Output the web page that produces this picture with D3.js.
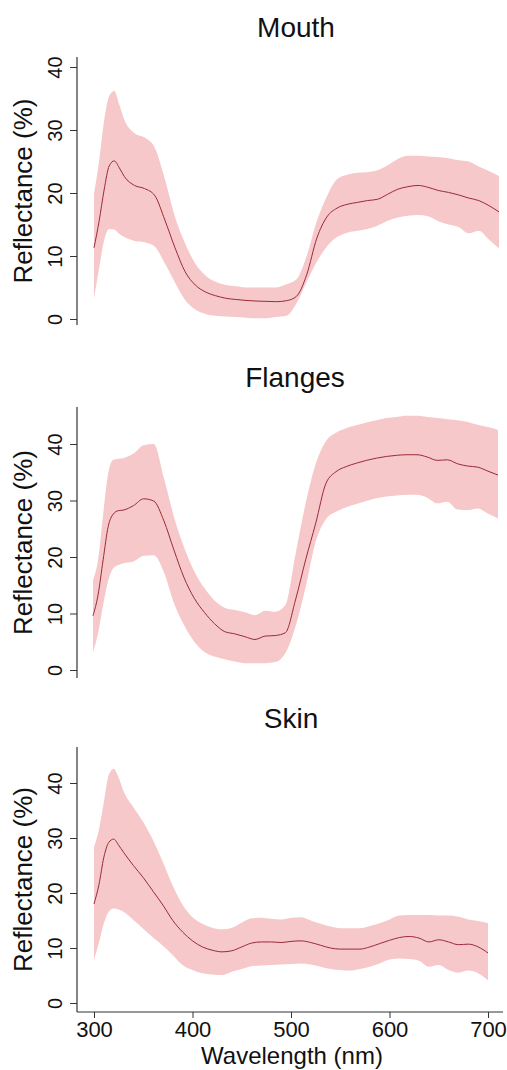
<!DOCTYPE html>
<html>
<head>
<meta charset="utf-8">
<script src="https://cdn.jsdelivr.net/npm/d3@7"></script>
<style>
  html, body { margin: 0; padding: 0; background: #fff; }
  svg { display: block; font-family: "Liberation Sans", Arial, sans-serif; }
</style>
</head>
<body>
<svg id="chart" width="507" height="1070"></svg>
<script>
// wavelengths (nm) shared by all three panels
const wavelengths = [300, 305, 310, 315, 320, 325, 330, 340, 350, 360, 370, 380, 390, 400, 410, 420, 430, 440, 450, 460, 470, 480, 490, 500,
  510, 520, 530, 540, 550, 560, 570, 580, 590, 600, 610, 620, 630, 640, 650, 660, 670, 680, 690, 700];

// Mouth
const mouthMean = [11.3, 15.5, 20.5, 24.3, 25.1, 24.0, 22.6, 21.2, 20.7, 19.6, 15.7, 11.3, 7.5, 5.4, 4.3, 3.7, 3.3, 3.1, 2.95, 2.85, 2.8, 2.75, 2.9, 3.6,
  7.0, 12.8, 16.2, 17.6, 18.2, 18.5, 18.8, 19.0, 19.8, 20.6, 21.0, 21.2, 20.9, 20.4, 20.1, 19.7, 19.2, 18.8, 18.0, 17.0];
const mouthUpper = [19.9, 25.0, 31.5, 35.4, 36.2, 34.0, 31.6, 29.5, 28.8, 27.2, 22.2, 16.2, 12.0, 8.8, 6.9, 5.9, 5.4, 5.2, 5.0, 5.0, 5.0, 5.0, 5.5, 6.3,
  10.0, 15.5, 19.5, 22.2, 22.9, 23.2, 23.3, 23.6, 24.4, 25.4, 25.9, 25.9, 25.8, 25.7, 25.5, 25.2, 25.0, 24.2, 23.5, 22.7];
const mouthLower = [3.3, 8.0, 12.5, 14.3, 14.2, 13.5, 13.0, 12.4, 12.2, 11.5, 8.8, 5.8, 3.0, 1.5, 0.8, 0.5, 0.4, 0.3, 0.2, 0.1, 0.1, 0.3, 0.5, 2.5,
  5.9, 9.1, 11.5, 13.0, 13.7, 14.0, 14.3, 14.8, 15.6, 16.1, 16.4, 16.5, 16.3, 15.5, 15.0, 14.6, 13.6, 14.0, 12.6, 11.2];

// Flanges
const flangesMean = [9.6, 13.3, 19.5, 25.4, 27.6, 28.2, 28.3, 29.1, 30.3, 29.9, 26.4, 21.2, 16.3, 12.7, 10.2, 8.2, 6.8, 6.4, 5.9, 5.4, 6.0, 6.1, 6.6, 12.4,
  19.5, 26.0, 33.0, 35.1, 36.0, 36.6, 37.1, 37.5, 37.8, 38.0, 38.1, 38.1, 37.7, 37.1, 37.2, 36.5, 36.1, 35.9, 35.2, 34.5];
const flangesUpper = [15.9, 19.5, 27.5, 34.8, 37.2, 37.4, 37.5, 38.3, 39.8, 40.0, 34.0, 27.1, 21.7, 17.5, 14.5, 12.3, 11.0, 10.6, 10.2, 9.7, 10.5, 10.3, 11.5, 20.5,
  29.5, 36.5, 40.5, 42.0, 42.8, 43.3, 43.8, 44.2, 44.6, 44.8, 45.0, 45.0, 44.8, 44.6, 44.4, 44.2, 43.9, 43.4, 43.0, 42.5];
const flangesLower = [3.2, 6.5, 11.5, 15.8, 18.0, 18.6, 18.9, 19.2, 20.2, 20.3, 17.3, 11.8, 7.9, 5.0, 3.2, 2.4, 1.9, 1.5, 1.2, 1.2, 1.2, 1.4, 3.0, 7.7,
  14.7, 22.8, 26.7, 28.0, 28.8, 29.4, 29.9, 30.4, 30.7, 30.9, 31.0, 31.0, 30.5, 29.5, 29.8, 28.4, 28.3, 28.6, 27.7, 26.8];

// Skin
const skinMean = [18.0, 21.5, 26.5, 29.2, 29.8, 28.7, 27.4, 25.0, 22.8, 20.3, 17.8, 15.0, 12.9, 11.3, 10.2, 9.6, 9.3, 9.5, 10.2, 10.9, 11.1, 11.1, 11.0, 11.2,
  11.3, 11.0, 10.5, 10.0, 9.8, 9.8, 9.8, 10.2, 10.8, 11.4, 11.9, 12.1, 11.8, 11.1, 11.5, 11.1, 10.6, 10.7, 10.2, 9.1];
const skinUpper = [28.4, 31.5, 36.5, 41.5, 42.6, 41.0, 38.5, 35.6, 32.9, 29.6, 25.6, 21.3, 17.8, 15.6, 14.4, 13.7, 13.4, 13.7, 14.6, 15.4, 15.5, 15.3, 15.2, 15.5,
  15.6, 15.0, 14.4, 13.9, 13.6, 13.6, 13.6, 14.0, 14.5, 15.2, 15.9, 16.0, 16.0, 16.0, 15.9, 15.9, 15.7, 15.2, 14.9, 14.5];
const skinLower = [7.8, 11.0, 14.5, 16.6, 17.2, 17.0, 16.6, 15.1, 13.5, 11.9, 10.4, 8.7, 6.9, 6.0, 5.4, 5.2, 5.1, 5.7, 6.2, 6.7, 6.8, 6.9, 7.0, 7.1,
  7.2, 7.0, 6.6, 6.2, 6.0, 5.9, 6.2, 6.6, 7.2, 7.9, 8.1, 8.0, 7.7, 6.6, 6.9, 6.0, 5.5, 5.9, 5.4, 4.1];

const yTicks = [0, 10, 20, 30, 40];
const xTicks = [300, 400, 500, 600, 700];

const bandColor = '#f6c8ca';
const lineColor = '#9a2a38';
const axisColor = '#333';

// panel placement (pixels)
const panels = [
  { title: 'Mouth', mean: mouthMean, upper: mouthUpper, lower: mouthLower,
    titleX: 296, titleY: 37, xLeft: 94, xRight: 499, y0: 319, y40: 67, top: 57, bottom: 325, xAxis: false },
  { title: 'Flanges', mean: flangesMean, upper: flangesUpper, lower: flangesLower,
    titleX: 295, titleY: 387, xLeft: 93, xRight: 498, y0: 670, y40: 444, top: 407, bottom: 678, xAxis: false },
  { title: 'Skin', mean: skinMean, upper: skinUpper, lower: skinLower,
    titleX: 291, titleY: 728, xLeft: 94, xRight: 488, y0: 1003, y40: 783, top: 747, bottom: 1012, xAxis: true }
];

const axisX = 77;
const svg = d3.select('#chart');

panels.forEach(function(p) {
  const x = d3.scaleLinear().domain([300, 700]).range([p.xLeft, p.xRight]);
  const y0 = d3.scaleLinear().domain([0, 40]).range([p.y0, p.y40]);
  const y = d3.scaleLinear().domain([y0.invert(p.bottom), y0.invert(p.top)]).range([p.bottom, p.top]);

  const rows = wavelengths.map(function(w, i) {
    return { w: w, mean: p.mean[i], upper: p.upper[i], lower: p.lower[i] };
  });

  const g = svg.append('g');

  // band
  g.append('path')
    .datum(rows)
    .attr('fill', bandColor)
    .attr('d', d3.area()
      .x(function(d) { return x(d.w); })
      .y0(function(d) { return y(d.lower); })
      .y1(function(d) { return y(d.upper); })
      .curve(d3.curveMonotoneX));

  // mean line
  g.append('path')
    .datum(rows)
    .attr('fill', 'none')
    .attr('stroke', lineColor)
    .attr('stroke-width', 1)
    .attr('d', d3.line()
      .x(function(d) { return x(d.w); })
      .y(function(d) { return y(d.mean); })
      .curve(d3.curveMonotoneX));

  // left axis
  const ya = g.append('g')
    .attr('transform', 'translate(' + axisX + ',0)')
    .call(d3.axisLeft(y).tickValues(yTicks).tickSize(7).tickSizeOuter(0));
  ya.select('.domain').remove();
  ya.selectAll('.tick line').attr('stroke', axisColor);
  ya.selectAll('.tick text')
    .attr('transform', 'rotate(-90)')
    .attr('x', 0)
    .attr('y', -15)
    .attr('dy', 0)
    .attr('text-anchor', 'middle')
    .attr('font-size', '20px')
    .attr('font-family', '"Liberation Sans", Arial, sans-serif')
    .attr('fill', '#111');
  g.append('line')
    .attr('x1', axisX).attr('x2', axisX)
    .attr('y1', p.top).attr('y2', p.bottom)
    .attr('stroke', axisColor).attr('stroke-width', 1.2);

  // y title
  const ty = (p.top + p.bottom) / 2;
  g.append('text')
    .attr('transform', 'translate(32,' + ty + ') rotate(-90)')
    .attr('text-anchor', 'middle')
    .attr('font-size', '26px')
    .attr('fill', '#111')
    .text('Reflectance (%)');

  // panel title
  g.append('text')
    .attr('x', p.titleX)
    .attr('y', p.titleY)
    .attr('text-anchor', 'middle')
    .attr('font-size', '28px')
    .attr('fill', '#111')
    .text(p.title);

  if (p.xAxis) {
    const xa = g.append('g')
      .attr('transform', 'translate(0,' + p.bottom + ')')
      .call(d3.axisBottom(x).tickValues(xTicks).tickSize(6).tickSizeOuter(0));
    xa.select('.domain').remove();
    xa.selectAll('.tick line').attr('stroke', axisColor);
    xa.selectAll('.tick text')
      .attr('y', 25)
      .attr('dy', 0)
      .attr('font-size', '22px')
      .attr('font-family', '"Liberation Sans", Arial, sans-serif')
      .attr('fill', '#111');
    g.append('line')
      .attr('x1', axisX).attr('x2', 503)
      .attr('y1', p.bottom).attr('y2', p.bottom)
      .attr('stroke', axisColor).attr('stroke-width', 1.2);

    g.append('text')
      .attr('x', 292)
      .attr('y', 1064)
      .attr('text-anchor', 'middle')
      .attr('font-size', '24px')
      .attr('fill', '#111')
      .text('Wavelength (nm)');
  }
});
</script>
</body>
</html>
